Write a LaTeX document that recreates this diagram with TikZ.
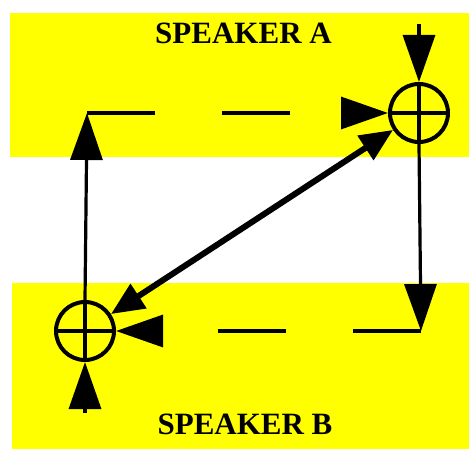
\documentclass[tikz,border=0pt]{standalone}
\usepackage{fontspec}
\setmainfont{Liberation Serif}
\usetikzlibrary{arrows.meta}
\definecolor{band}{RGB}{255,255,0}
\tikzset{
  sum/.style={circle, draw, line width=4pt, minimum size=58pt, inner sep=0pt},
  flow/.style={line width=3.2pt, -{Triangle[width=32pt,length=47pt]}},
  dflow/.style={flow, dash pattern=on 68pt off 67pt},
  cross/.style={line width=3.2pt},
  link/.style={line width=6pt, {Triangle[width=28pt,length=33pt]}-{Triangle[width=28pt,length=33pt]}},
  lbl/.style={font=\fontsize{31}{37}\selectfont\bfseries, anchor=base, inner sep=0pt}
}
\begin{document}
\begin{tikzpicture}[x=1pt,y=-1pt]
\useasboundingbox (0,0) rectangle (469,449);
\fill[band] (10,13) rectangle (469,157);
\fill[band] (12,283) rectangle (469,449);
\node[lbl] (la) at (243.5,44) {SPEAKER A};
\node[lbl] (lb) at (245,434) {SPEAKER B};
\node[sum] (A) at (419,113) {};
\node[sum] (B) at (85,331) {};
\coordinate (inA) at (419,24);
\coordinate (inB) at (85,413);
\coordinate (cBR) at (421,331);
\coordinate (cTL) at (87,113);
% crosses
\draw[cross] (A.north) -- (A.south);
\draw[cross] (A.west) -- (A.east);
\draw[cross] (B.north) -- (B.south);
\draw[cross] (B.west) -- (B.east);
% inputs
\draw[flow] (inA) -- (A.north);
\draw[flow] (inB) -- (B.south);
% loop
\draw[flow] (A.south) -- (cBR);
\draw[dflow] (cBR) -- (B.east);
\draw[flow] (B.north) -- (cTL);
\draw[dflow] (cTL) -- (A.west);
% diagonal
\draw[link] (A) -- (B);
\end{tikzpicture}
\end{document}
